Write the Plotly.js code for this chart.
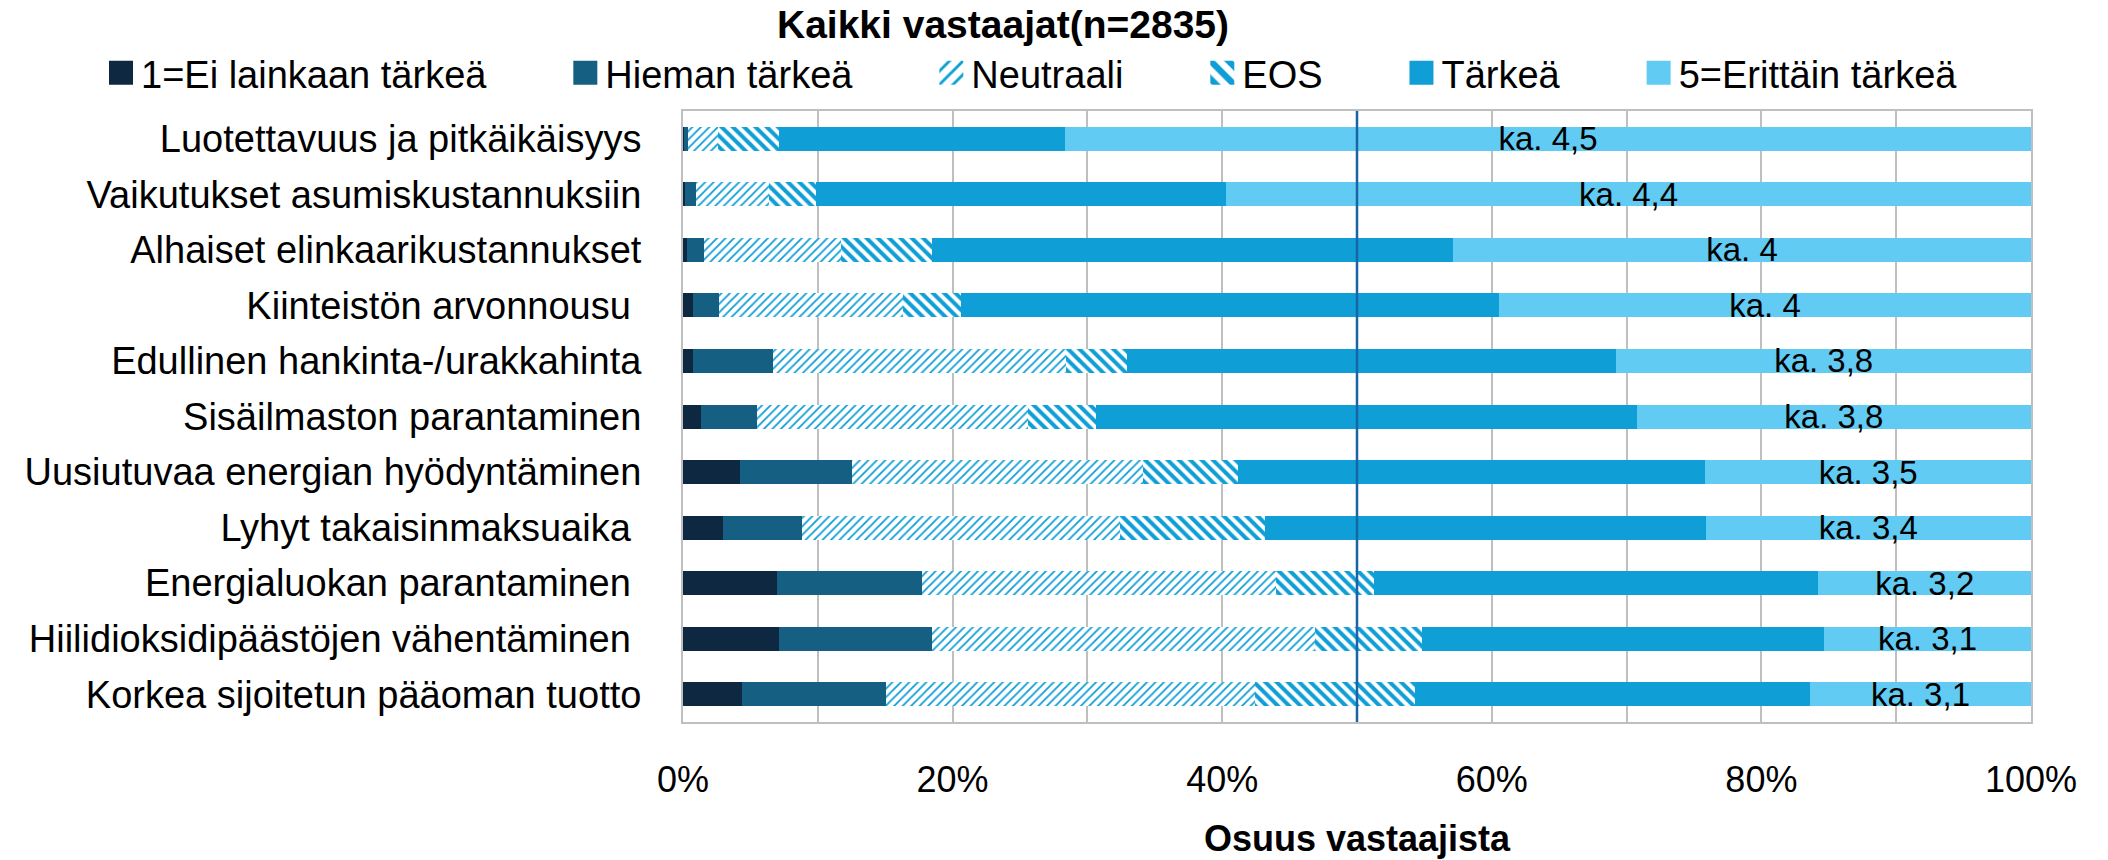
<!DOCTYPE html>
<html>
<head>
<meta charset="utf-8">
<script src="https://cdn.plot.ly/plotly-3.0.1.min.js"></script>
<style>
  html, body { margin: 0; padding: 0; background: #ffffff; }
  #chart { width: 2108px; height: 860px; }
</style>
</head>
<body>
<div id="chart"></div>
<script>
// ---- Data (percent of respondents) ----
const categories = [
  'Luotettavuus ja pitkäikäisyys',
  'Vaikutukset asumiskustannuksiin',
  'Alhaiset elinkaarikustannukset',
  'Kiinteistön arvonnousu\u00a0',
  'Edullinen hankinta-/urakkahinta',
  'Sisäilmaston parantaminen',
  'Uusiutuvaa energian hyödyntäminen',
  'Lyhyt takaisinmaksuaika\u00a0',
  'Energialuokan parantaminen\u00a0',
  'Hiilidioksidipäästöjen vähentäminen\u00a0',
  'Korkea sijoitetun pääoman tuotto'
];
const seriesNames = ['1=Ei lainkaan tärkeä', 'Hieman tärkeä', 'Neutraali', 'EOS', 'Tärkeä', '5=Erittäin tärkeä'];
const eiLainkaan = [0.1, 0.15, 0.3, 0.75, 0.75, 1.3, 4.25, 2.95, 6.95, 7.1, 4.4];
const hieman     = [0.3, 0.8, 1.25, 1.9, 5.9, 4.2, 8.25, 5.85, 10.75, 11.4, 10.65];
const neutraali  = [2.2, 5.4, 10.2, 13.65, 21.75, 20.1, 21.6, 23.6, 26.3, 28.35, 27.35];
const eos        = [4.5, 3.5, 6.75, 4.3, 4.55, 5.05, 7.1, 10.8, 7.25, 7.95, 11.9];
const tarkea     = [21.24, 30.44, 38.62, 39.93, 36.29, 40.1, 34.64, 32.66, 32.98, 29.84, 29.3];
const erittain   = [71.66, 59.71, 42.88, 39.47, 30.76, 29.25, 24.16, 24.14, 15.77, 15.36, 16.4];
const meanLabels = ['ka. 4,5', 'ka. 4,4', 'ka. 4', 'ka. 4', 'ka. 3,8', 'ka. 3,8', 'ka. 3,5', 'ka. 3,4', 'ka. 3,2', 'ka. 3,1', 'ka. 3,1'];
const xTickVals  = [0, 10, 20, 30, 40, 50, 60, 70, 80, 90, 100];
const xTickText  = ['0%', '', '20%', '', '40%', '', '60%', '', '80%', '', '100%'];
const chartTitle = 'Kaikki vastaajat(n=2835)';
const xTitle     = 'Osuus vastaajista';

// ---- Styling ----
const FONT = 'Liberation Sans, Arial, sans-serif';
const C_NAVY = '#0E2841', C_TEAL = '#156082', C_BLUE = '#0F9ED5', C_LIGHT = '#61CBF3';
const PAD = '\u00a0'.repeat(7);

function solid(name, vals, color, extra) {
  return Object.assign({
    type: 'bar', orientation: 'h', name: name, x: vals, y: categories,
    marker: { color: color, line: { width: 0 } },
    hoverinfo: 'skip'
  }, extra || {});
}
function hatched(name, vals, shape, size, solidity) {
  return {
    type: 'bar', orientation: 'h', name: name, x: vals, y: categories,
    marker: {
      color: '#ffffff', line: { width: 0 },
      pattern: { shape: shape, fgcolor: C_BLUE, bgcolor: '#ffffff', size: size, solidity: solidity, fillmode: 'replace' }
    },
    hoverinfo: 'skip'
  };
}

const traces = [
  solid(seriesNames[0] + PAD, eiLainkaan, C_NAVY),
  solid(seriesNames[1] + PAD, hieman, C_TEAL),
  hatched(seriesNames[2] + PAD, neutraali, '/', 6, 0.3),
  hatched(seriesNames[3] + PAD, eos, '\\', 8, 0.5),
  solid(seriesNames[4] + PAD, tarkea, C_BLUE),
  solid(seriesNames[5], erittain, C_LIGHT, {
    text: meanLabels, textposition: 'inside', insidetextanchor: 'middle',
    textangle: 0, constraintext: 'none',
    textfont: { family: FONT, size: 33, color: '#000000' }
  })
];

const layout = {
  width: 2108, height: 860,
  margin: { l: 683, r: 77, t: 111, b: 138, pad: 0 },
  paper_bgcolor: '#ffffff', plot_bgcolor: '#ffffff',
  barmode: 'stack', bargap: 0.568,
  showlegend: true,
  title: {
    text: '<b>' + chartTitle + '</b>',
    font: { family: FONT, size: 39, color: '#000000' },
    x: 1003 / 2108, xanchor: 'center', xref: 'container',
    y: 1 - 24 / 860, yanchor: 'middle', yref: 'container'
  },
  legend: {
    orientation: 'h', x: (101 - 683) / 1348, xanchor: 'left',
    y: (722 - 73) / 611, yanchor: 'middle',
    font: { family: FONT, size: 38, color: '#000000' },
    traceorder: 'normal', bgcolor: 'rgba(0,0,0,0)', itemclick: false
  },
  xaxis: {
    range: [0, 100], fixedrange: true,
    tickvals: xTickVals, ticktext: xTickText,
    ticks: 'outside', ticklen: 25, tickcolor: 'rgba(0,0,0,0)',
    tickfont: { family: FONT, size: 36, color: '#000000' },
    showgrid: true, gridcolor: '#BFBFBF', gridwidth: 2,
    showline: true, linecolor: '#BFBFBF', linewidth: 2, mirror: true,
    zeroline: false,
    title: { text: '<b>' + xTitle + '</b>', font: { family: FONT, size: 36, color: '#000000' }, standoff: 27 }
  },
  yaxis: {
    autorange: 'reversed', fixedrange: true, type: 'category',
    ticks: 'outside', ticklen: 32, tickcolor: 'rgba(0,0,0,0)',
    tickfont: { family: FONT, size: 38, color: '#000000' },
    showgrid: false, showline: true, linecolor: '#BFBFBF', linewidth: 2, mirror: true,
    zeroline: false
  },
  shapes: [{
    type: 'line', xref: 'x', yref: 'paper', x0: 50, x1: 50, y0: 0, y1: 1,
    line: { color: '#1865A5', width: 2.5 }, layer: 'above'
  }]
};

Plotly.newPlot('chart', traces, layout, { staticPlot: true, displayModeBar: false }).then(function () {
  document.querySelectorAll('.legend .legendpoints path').forEach(function (p) {
    var t = p.getAttribute('transform') || '';
    p.setAttribute('transform', t + ' scale(2)');
  });
});
</script>
</body>
</html>
